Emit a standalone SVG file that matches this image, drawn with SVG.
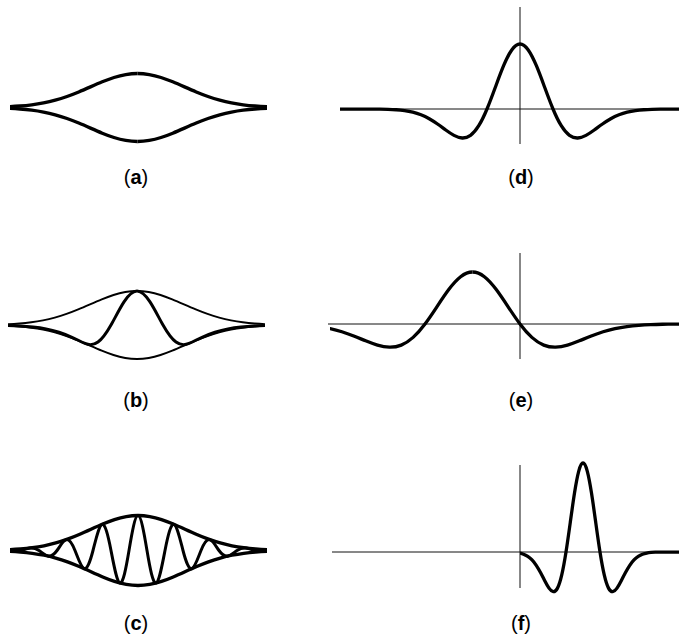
<svg xmlns="http://www.w3.org/2000/svg" width="679" height="637" viewBox="0 0 679 637">
<style>
.thick{fill:none;stroke:#000;stroke-width:3.3;stroke-linejoin:round;stroke-linecap:butt}
.carrier{fill:none;stroke:#000;stroke-width:3;stroke-linejoin:round}
.thin{fill:none;stroke:#000;stroke-width:1.9;stroke-linejoin:round}
.axis{fill:none;stroke:#111;stroke-width:1}
.lbl{font-family:"Liberation Sans",Arial,sans-serif;font-size:20px;fill:#000;text-anchor:middle}
.lbl tspan{font-weight:bold}
</style>
<defs>
<path id="gh" vector-effect="non-scaling-stroke" d="M0,-100 C8.33,-100 16.67,-98.942 25,-96.923 C33.33,-94.904 41.67,-91.927 50,-88.25 C58.33,-84.573 66.67,-80.202 75,-75.484 C83.33,-70.766 91.67,-65.707 100,-60.653 C108.33,-55.599 116.67,-50.552 125,-45.783 C133.33,-41.014 141.67,-36.523 150,-32.465 C158.33,-28.407 166.67,-24.781 175,-21.627 C183.33,-18.473 191.67,-15.79 200,-13.534 C208.33,-11.278 216.67,-9.448 225,-7.956 C233.33,-6.464 241.67,-5.309 250,-4.394 C258.33,-3.479 266.67,-2.801 275,-2.279 C283.33,-1.757 291.67,-1.389 300,-1.111 C308.33,-0.833 316.67,-0.647 325,-0.509 C333.33,-0.371 341.67,-0.283 350,-0.219 L400,0"/>
<path id="mh" vector-effect="non-scaling-stroke" d="M0,-100 C8.33,-100 16.67,-96.797 25,-90.865 C33.33,-84.934 41.67,-76.3 50,-66.188 C58.33,-56.076 66.67,-44.524 75,-33.024 C83.33,-21.525 91.67,-10.109 100,0 C108.33,10.109 116.67,18.897 125,25.753 C133.33,32.609 141.67,37.537 150,40.581 C158.33,43.625 166.67,44.803 175,44.606 C183.33,44.409 191.67,42.858 200,40.602 C208.33,38.346 216.67,35.398 225,32.321 C233.33,29.244 241.67,26.044 250,23.069 C258.33,20.094 266.67,17.339 275,14.956 C283.33,12.573 291.67,10.555 300,8.888 C308.33,7.222 316.67,5.91 325,4.867 C333.33,3.825 341.67,3.055 350,2.464 C358.33,1.873 366.67,1.461 375,1.155 C383.33,0.849 391.67,0.648 400,0.503 C408.33,0.358 416.67,0.268 425,0.204 C433.33,0.14 441.67,0.103 450,0.077 L1000,0"/>
<path id="bh" d="M0,-34 C4.33,-34 8.67,-29.787 13,-23.139 C17.33,-16.491 21.67,-7.638 26,0 C30.33,7.638 34.67,13.882 39,17.039 C43.33,20.196 47.67,20.317 52,18.436 C56.33,16.555 60.67,14.196 65,12.282 C69.33,10.368 73.67,8.594 78,7.206 C82.33,5.818 86.67,4.698 91,3.861 C95.33,3.024 99.67,2.431 104,1.97 C108.33,1.509 112.67,1.187 117,0.951 C121.33,0.715 125.67,0.562 130,0.445 L140,0.2"/>
<path id="ch" d="M0,-35 C3,-35 6,-17.993 9,0 C12,17.993 15,33.32 18,32.525 C21,31.73 24,15.538 27,0 C30,-15.538 33,-27.379 36,-26.103 C39,-24.827 42,-11.588 45,0 C48,11.588 51,19.417 54,18.09 C57,16.763 60,7.463 63,0 C66,-7.463 69,-11.885 72,-10.826 C75,-9.767 78,-4.151 81,0 C84,4.151 87,6.28 90,5.596 C93,4.912 96,1.994 99,0 C102,-1.994 105,-2.863 108,-2.497 C111,-2.131 114,-0.827 117,0 C120,0.827 123,1.127 126,0.9625 C129,0.798 132,0.296 135,0 L140,0"/>
<clipPath id="clipA"><rect x="10" y="0" width="257" height="200"/></clipPath>
<clipPath id="clipB"><rect x="8" y="220" width="257" height="200"/></clipPath>
<clipPath id="clipC"><rect x="10" y="440" width="257" height="200"/></clipPath>
<clipPath id="clipD"><rect x="340" y="0" width="339" height="200"/></clipPath>
<clipPath id="clipE"><rect x="330" y="220" width="349" height="200"/></clipPath>
<clipPath id="clipF"><rect x="520" y="440" width="159" height="200"/></clipPath>
</defs>

<g id="panel-a">
<g clip-path="url(#clipA)">
<use href="#gh" class="thick" transform="translate(137.5,107.5) scale(0.47,0.34)"/>
<use href="#gh" class="thick" transform="translate(137.5,107.5) scale(-0.47,0.34)"/>
<use href="#gh" class="thick" transform="translate(137.5,107.5) scale(0.47,-0.34)"/>
<use href="#gh" class="thick" transform="translate(137.5,107.5) scale(-0.47,-0.34)"/>
</g>
<text class="lbl" x="136" y="184">(<tspan>a</tspan>)</text>
</g>

<g id="panel-b">
<g clip-path="url(#clipB)">
<use href="#gh" class="thin" transform="translate(137,325) scale(0.47,0.34)"/>
<use href="#gh" class="thin" transform="translate(137,325) scale(-0.47,0.34)"/>
<use href="#gh" class="thin" transform="translate(137,325) scale(0.47,-0.34)"/>
<use href="#gh" class="thin" transform="translate(137,325) scale(-0.47,-0.34)"/>
<use href="#bh" class="carrier" transform="translate(137,325)"/>
<use href="#bh" class="carrier" transform="translate(137,325) scale(-1,1)"/>
</g>
<text class="lbl" x="136" y="407">(<tspan>b</tspan>)</text>
</g>

<g id="panel-c">
<g clip-path="url(#clipC)">
<use href="#gh" class="thick" transform="translate(138,550.5) scale(0.47,0.35)"/>
<use href="#gh" class="thick" transform="translate(138,550.5) scale(-0.47,0.35)"/>
<use href="#gh" class="thick" transform="translate(138,550.5) scale(0.47,-0.35)"/>
<use href="#gh" class="thick" transform="translate(138,550.5) scale(-0.47,-0.35)"/>
<use href="#ch" class="carrier" transform="translate(138,550.5)"/>
<use href="#ch" class="carrier" transform="translate(138,550.5) scale(-1,1)"/>
</g>
<text class="lbl" x="136" y="630">(<tspan>c</tspan>)</text>
</g>

<g id="panel-d">
<line class="axis" x1="373" y1="109" x2="679" y2="109"/>
<line class="axis" x1="520" y1="7" x2="520" y2="144"/>
<g clip-path="url(#clipD)">
<use href="#mh" class="thick" transform="translate(520,109) scale(0.33,0.65)"/>
<use href="#mh" class="thick" transform="translate(520,109) scale(-0.33,0.65)"/>
</g>
<text class="lbl" x="521" y="184">(<tspan>d</tspan>)</text>
</g>

<g id="panel-e">
<line class="axis" x1="328" y1="324" x2="679" y2="324"/>
<line class="axis" x1="520" y1="253" x2="520" y2="359"/>
<g clip-path="url(#clipE)">
<use href="#mh" class="thick" transform="translate(472.5,324) scale(0.475,0.52)"/>
<use href="#mh" class="thick" transform="translate(472.5,324) scale(-0.475,0.52)"/>
</g>
<text class="lbl" x="521" y="407">(<tspan>e</tspan>)</text>
</g>

<g id="panel-f">
<line class="axis" x1="332" y1="552" x2="679" y2="552"/>
<line class="axis" x1="520" y1="465" x2="520" y2="588"/>
<g clip-path="url(#clipF)">
<use href="#mh" class="thick" transform="translate(583,552) scale(0.17,0.89)"/>
<use href="#mh" class="thick" transform="translate(583,552) scale(-0.17,0.89)"/>
</g>
<text class="lbl" x="521" y="630">(<tspan>f</tspan>)</text>
</g>
</svg>
